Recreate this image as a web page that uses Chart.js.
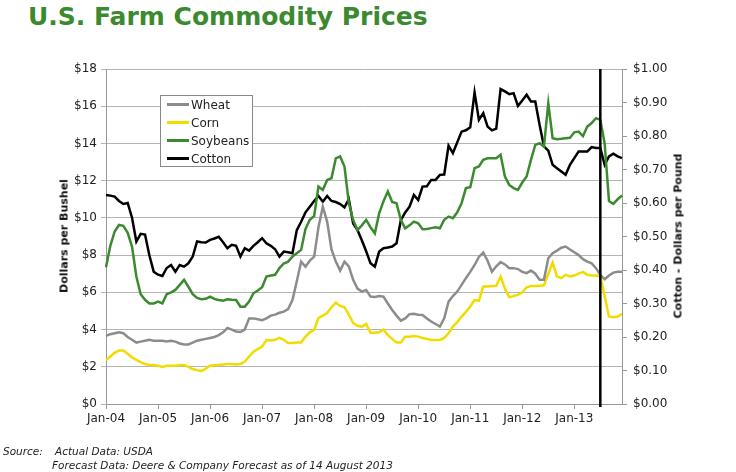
<!DOCTYPE html>
<html><head><meta charset="utf-8">
<script src="https://cdn.jsdelivr.net/npm/chart.js@4/dist/chart.umd.min.js"></script>
<style>
body{margin:0;background:#fff;width:736px;height:472px;overflow:hidden;position:relative;font-family:"DejaVu Sans",Verdana,sans-serif;color:#222;}
#title{position:absolute;left:28px;top:2px;font-size:25px;font-weight:bold;color:#3b8a2f;white-space:nowrap;}
#wrap{position:absolute;left:0;top:0;width:736px;height:472px;}
.ytitle{position:absolute;font-size:11px;font-weight:bold;white-space:nowrap;transform:translate(-50%,-50%) rotate(-90deg);color:#111;}
#legend{position:absolute;left:160px;top:95px;width:93px;height:72px;background:#fff;border:1px solid #888;box-sizing:border-box;}
.li{position:absolute;left:6px;height:18px;font-size:12px;line-height:18px;white-space:nowrap;}
.li span.sw{display:inline-block;width:22px;height:2.5px;vertical-align:middle;margin-right:2px;position:relative;top:-1px;}
.foot{position:absolute;font-size:10.5px;font-style:italic;white-space:nowrap;color:#222;}
</style></head>
<body>
<div id="title">U.S. Farm Commodity Prices</div>
<div id="wrap"><canvas id="c" width="736" height="472"></canvas></div>
<div class="ytitle" style="left:64px;top:236px;">Dollars per Bushel</div>
<div class="ytitle" style="left:678px;top:236px;">Cotton - Dollars per Pound</div>
<div id="legend"></div>
<div class="foot" style="left:3px;top:445px;">Source:</div>
<div class="foot" style="left:55px;top:445px;">Actual Data: USDA</div>
<div class="foot" style="left:52px;top:459px;">Forecast Data: Deere &amp; Company Forecast as of 14 August 2013</div>
<script>
const years = ['04','05','06','07','08','09','10','11','12','13'];
const monthNames = ['Jan','Feb','Mar','Apr','May','Jun','Jul','Aug','Sep','Oct','Nov','Dec'];
const categories = [];
years.forEach(y => monthNames.forEach(m => categories.push(m + '-' + y)));

const wheat = [3.66,3.75,3.8,3.85,3.8,3.6,3.45,3.3,3.35,3.4,3.45,3.4,
3.4,3.4,3.36,3.4,3.35,3.25,3.2,3.2,3.3,3.4,3.45,3.5,
3.55,3.6,3.7,3.85,4.09,4.0,3.9,3.87,4.0,4.6,4.6,4.55,
4.5,4.6,4.75,4.8,4.9,4.96,5.1,5.59,6.6,7.65,7.38,7.7,
7.92,9.5,10.6,9.8,8.3,7.65,7.17,7.65,7.4,6.67,6.2,6.04,
6.13,5.77,5.75,5.8,5.77,5.4,5.05,4.75,4.48,4.6,4.83,4.85,
4.8,4.78,4.6,4.43,4.3,4.16,4.6,5.5,5.8,6.04,6.4,6.76,
7.1,7.47,7.9,8.14,7.7,7.11,7.4,7.63,7.5,7.3,7.3,7.25,
7.1,7.03,7.17,7.0,6.67,6.67,7.83,8.1,8.24,8.4,8.46,8.3,
8.15,8.0,7.78,7.65,7.56,7.3,6.94,6.7,6.9,7.06,7.11,7.1];

const corn = [2.37,2.55,2.75,2.88,2.87,2.7,2.5,2.37,2.25,2.15,2.1,2.09,
2.05,1.99,2.05,2.06,2.06,2.09,2.09,2.0,1.88,1.82,1.77,1.9,
2.06,2.08,2.1,2.12,2.15,2.15,2.12,2.15,2.27,2.55,2.81,2.95,
3.08,3.44,3.41,3.45,3.55,3.45,3.28,3.28,3.3,3.3,3.62,3.85,
3.98,4.62,4.75,4.89,5.2,5.45,5.27,5.2,4.8,4.35,4.2,4.16,
4.3,3.83,3.83,3.85,4.0,3.7,3.5,3.3,3.3,3.62,3.62,3.65,
3.62,3.55,3.5,3.44,3.44,3.44,3.55,3.8,4.16,4.4,4.7,4.95,
5.24,5.59,5.55,6.31,6.31,6.34,6.35,6.85,6.2,5.73,5.8,5.86,
6.0,6.27,6.34,6.34,6.36,6.38,7.0,7.6,6.85,6.76,6.94,6.85,
6.9,7.0,7.1,6.94,6.9,6.9,6.85,5.8,4.7,4.66,4.7,4.84];

const soybeans = [7.35,8.5,9.27,9.62,9.57,9.2,8.46,6.85,5.9,5.6,5.4,5.4,
5.5,5.41,5.9,6.0,6.13,6.4,6.67,6.3,5.9,5.7,5.63,5.65,
5.77,5.65,5.59,5.55,5.63,5.6,5.59,5.23,5.23,5.5,5.95,6.1,
6.27,6.85,6.9,6.94,7.3,7.55,7.65,7.92,8.1,8.28,9.4,9.9,
10.1,11.68,11.5,12.04,12.13,13.2,13.3,12.76,10.8,9.89,9.35,9.6,
9.89,9.5,9.17,10.25,10.9,11.42,10.85,10.79,9.89,9.44,9.6,9.8,
9.71,9.39,9.4,9.45,9.5,9.44,9.9,10.07,9.98,10.3,10.79,11.6,
11.65,12.67,12.76,13.12,13.2,13.2,13.2,13.39,12.22,11.77,11.6,11.5,
11.9,12.22,13.12,13.92,14.01,13.83,16.16,14.28,14.23,14.25,14.28,14.3,
14.6,14.64,14.4,14.91,15.1,15.36,15.27,14.0,10.9,10.75,11.0,11.2];

const cotton = [0.624,0.622,0.619,0.606,0.597,0.6,0.556,0.485,0.508,0.506,0.444,0.395,
0.386,0.382,0.406,0.415,0.395,0.415,0.41,0.42,0.44,0.485,0.483,0.482,
0.49,0.494,0.499,0.483,0.465,0.475,0.472,0.44,0.465,0.458,0.472,0.483,
0.495,0.48,0.472,0.462,0.44,0.455,0.453,0.45,0.519,0.544,0.572,0.589,
0.606,0.621,0.604,0.621,0.606,0.603,0.597,0.587,0.611,0.539,0.519,0.489,
0.456,0.42,0.41,0.455,0.465,0.467,0.47,0.48,0.549,0.572,0.589,0.624,
0.609,0.649,0.65,0.669,0.669,0.684,0.685,0.771,0.749,0.781,0.813,0.817,
0.826,0.93,0.848,0.868,0.828,0.817,0.822,0.94,0.933,0.925,0.928,0.89,
0.906,0.923,0.903,0.903,0.833,0.769,0.756,0.714,0.704,0.694,0.684,0.714,
0.734,0.754,0.754,0.754,0.767,0.764,0.764,0.714,0.739,0.747,0.739,0.734];

const leftTicks = ['$0','$2','$4','$6','$8','$10','$12','$14','$16','$18'];
const rightTicks = ['$0.00','$0.10','$0.20','$0.30','$0.40','$0.50','$0.60','$0.70','$0.80','$0.90','$1.00'];
const forecastStart = 'Jul-13';

const series = [
  {label:'Wheat', data:wheat, color:'#8c8c8c', axis:'y'},
  {label:'Corn', data:corn, color:'#f2dc00', axis:'y'},
  {label:'Soybeans', data:soybeans, color:'#3c8a30', axis:'y'},
  {label:'Cotton', data:cotton, color:'#000000', axis:'y2'}
];

// legend
const lg = document.getElementById('legend');
series.forEach((s,i)=>{
  const d = document.createElement('div');
  d.className='li'; d.style.top=(i*18)+'px';
  d.innerHTML = '<span class="sw" style="background:'+s.color+'"></span>'+s.label;
  lg.appendChild(d);
});

const fontTick = {family:'"DejaVu Sans", Verdana, sans-serif', size:12};

const forecastLine = {
  id:'forecastLine',
  afterDatasetsDraw(chart){
    const x = chart.scales.x.getPixelForValue(categories.indexOf(forecastStart));
    const ctx = chart.ctx, a = chart.chartArea;
    ctx.save();
    ctx.strokeStyle='#000'; ctx.lineWidth=2.5;
    ctx.beginPath(); ctx.moveTo(x,a.top); ctx.lineTo(x,a.bottom+3); ctx.stroke();
    ctx.restore();
  }
};

new Chart(document.getElementById('c'), {
  type:'line',
  data:{
    labels:categories,
    datasets: series.map(s=>({label:s.label,data:s.data,borderColor:s.color,backgroundColor:s.color,
      borderWidth:2.5,pointRadius:0,tension:0,yAxisID:s.axis,fill:false}))
  },
  options:{
    responsive:false,animation:false,
    layout:{padding:{top:69,left:0,right:0,bottom:0}},
    plugins:{legend:{display:false},tooltip:{enabled:false}},
    scales:{
      x:{
        type:'category',
        afterFit(s){s.height=68;},
        grid:{display:true,drawOnChartArea:false,drawTicks:true,tickLength:5,
          color:(c)=> (c.index%12===0 ? '#999' : 'rgba(0,0,0,0)')},
        border:{display:true,color:'#999',width:1},
        ticks:{autoSkip:false,maxRotation:0,minRotation:0,padding:3,color:'#222',font:fontTick,
          callback:(v,i)=> (i%12===0 ? categories[i] : '')}
      },
      y:{
        position:'left',min:0,max:18,
        afterFit(s){s.width=106;},
        grid:{color:'#b4b4b4',lineWidth:1,drawTicks:true,tickLength:5},
        border:{display:true,color:'#999',width:1},
        ticks:{stepSize:2,padding:4,color:'#222',font:fontTick,
          callback:(v)=> leftTicks[Math.round(v/2)]}
      },
      y2:{
        position:'right',min:0,max:1,
        afterFit(s){s.width=114;},
        grid:{drawOnChartArea:false,color:'#999',drawTicks:true,tickLength:5},
        border:{display:true,color:'#999',width:1},
        ticks:{stepSize:0.1,padding:6,color:'#222',font:fontTick,
          callback:(v)=> rightTicks[Math.round(v*10)]}
      }
    }
  },
  plugins:[forecastLine]
});
</script>
</body></html>
